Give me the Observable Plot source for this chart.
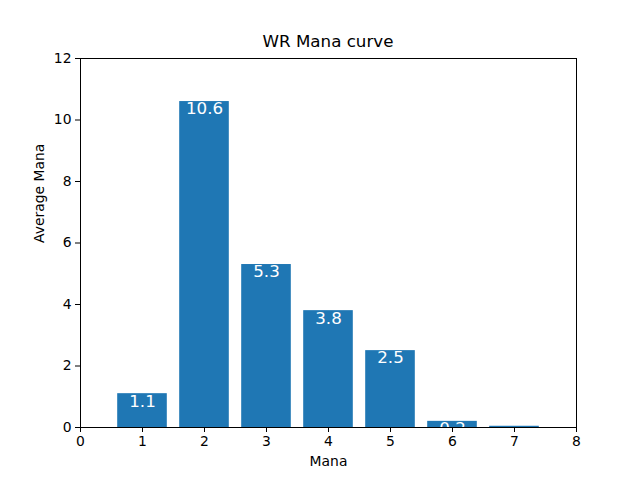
<!DOCTYPE html>
<html>
<head>
<meta charset="utf-8">
<script src="https://cdn.jsdelivr.net/npm/d3@7"></script>
<script src="https://cdn.jsdelivr.net/npm/@observablehq/plot@0.6"></script>
<style>
  html, body { margin: 0; padding: 0; background: #fff; }
  #wrap { width: 640px; height: 480px; position: relative; font-family: "DejaVu Sans", sans-serif; }
  #title { position: absolute; left: 80px; width: 496px; top: 31px; text-align: center; font-size: 16.7px; color: #000; line-height: 20px; }
  #chart { position: absolute; left: 0; top: 50px; }
</style>
</head>
<body>
<div id="wrap">
  <div id="title">WR Mana curve</div>
  <div id="chart"></div>
</div>
<script>
const manaCosts = [1, 2, 3, 4, 5, 6, 7];
const averages = [1.1, 10.6, 5.3, 3.8, 2.5, 0.2, 0.04];
const valueLabels = ["1.1", "10.6", "5.3", "3.8", "2.5", "0.2", "0.0"];
const xTicks = [0, 1, 2, 3, 4, 5, 6, 7, 8];
const yTicks = [0, 2, 4, 6, 8, 10, 12];

const data = manaCosts.map((m, i) => ({mana: m, value: averages[i], label: valueLabels[i]}));
const barHalf = 0.4;

const plot = Plot.plot({
  width: 640,
  height: 430,
  marginLeft: 80,
  marginRight: 64,
  marginTop: 8,
  marginBottom: 53,
  style: {fontFamily: "DejaVu Sans, sans-serif", fontSize: "13.9px", color: "#000", background: "#fff"},
  x: {domain: [0, 8], ticks: xTicks, tickSize: 5, tickPadding: 4, label: null},
  y: {domain: [0, 12], ticks: yTicks, tickSize: 5, tickPadding: 4, label: null},
  marks: [
    Plot.rectY(data, {x1: d => d.mana - barHalf, x2: d => d.mana + barHalf, y: "value", fill: "#1f77b4"}),
    Plot.text(data, {x: "mana", y: "value", text: "label", fill: "white", fontSize: 16.7, lineAnchor: "top", dy: 1, clip: true}),
    Plot.frame({stroke: "black", strokeWidth: 1}),
    Plot.axisX({ticks: xTicks, tickSize: 5, tickPadding: 4, fontSize: 13.9, label: null}),
    Plot.axisY({ticks: yTicks, tickSize: 5, tickPadding: 4, fontSize: 13.9, label: null}),
    Plot.text(["Mana"], {frameAnchor: "bottom", dy: 34, fontSize: 13.9, lineAnchor: "middle"}),
    Plot.text(["Average Mana"], {frameAnchor: "left", dx: -41, rotate: -90, fontSize: 13.9})
  ]
});
document.getElementById("chart").appendChild(plot);
</script>
</body>
</html>
